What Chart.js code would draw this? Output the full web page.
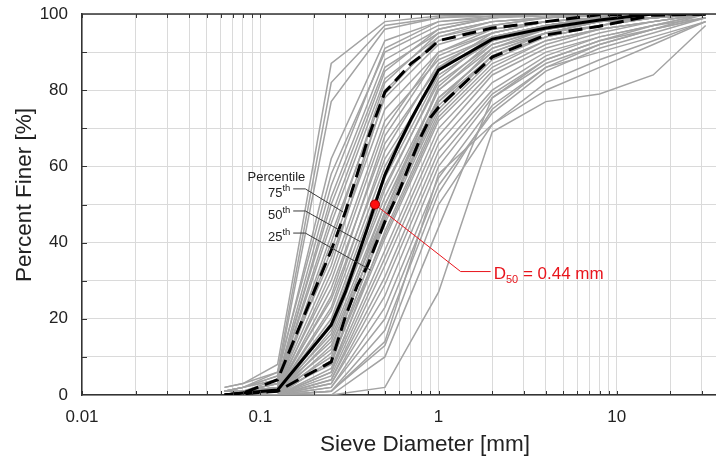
<!DOCTYPE html>
<html>
<head>
<meta charset="utf-8">
<script src="https://cdn.jsdelivr.net/npm/chart.js@4.4.0/dist/chart.umd.min.js"></script>
<style>
  html, body { margin: 0; padding: 0; background: #fff; }
  #wrap { width: 716px; height: 463px; }
</style>
</head>
<body>
<div id="wrap"><canvas id="gsd" width="716" height="463"></canvas></div>
<script>
// sieve openings [mm]
var sieveSizes = [0.063, 0.08, 0.125, 0.25, 0.5, 1, 2, 4, 8, 16, 31.5];

// percent finer of each sample, one row per sample, at the sieve sizes above
var samplePassing = [
    [2, 3, 8, 87, 98, 99.5, 100, 100, 100, 100, 100],
    [1, 2, 6, 82, 97, 99, 100, 100, 100, 100, 100],
    [1, 2, 5, 77, 96, 99, 99.5, 100, 100, 100, 100],
    [1, 2, 5, 62, 93, 98, 99.5, 100, 100, 100, 100],
    [2, 3, 6, 58, 90, 97, 99, 100, 100, 100, 100],
    [1, 1, 4, 55, 91, 98, 99, 100, 100, 100, 100],
    [0, 1, 3, 52, 88, 96, 99, 99.5, 100, 100, 100],
    [1, 2, 4, 50, 86, 95, 98, 99, 100, 100, 100],
    [0, 1, 3, 47, 85, 96, 99, 100, 100, 100, 100],
    [1, 1, 3, 45, 83, 94, 97, 99, 100, 100, 100],
    [0, 0, 2, 42, 80, 93, 97, 99, 99.5, 100, 100],
    [0, 1, 2, 40, 82, 95, 98, 99, 100, 100, 100],
    [0, 0, 2, 38, 78, 92, 96, 98, 99, 100, 100],
    [1, 2, 4, 36, 75, 90, 95, 98, 99, 100, 100],
    [0, 1, 2, 34, 79, 94, 98, 99, 100, 100, 100],
    [0, 0, 1, 32, 72, 88, 94, 97, 99, 100, 100],
    [0, 1, 2, 30, 70, 90, 96, 98, 99, 100, 100],
    [0, 0, 1, 28, 66, 86, 93, 97, 99, 100, 100],
    [0, 0, 1, 26, 68, 89, 95, 98, 99, 100, 100],
    [1, 1, 2, 25, 62, 84, 93, 96, 98, 99, 100],
    [0, 0, 1, 23, 64, 87, 94, 97, 99, 100, 100],
    [0, 0, 1, 22, 60, 85, 94, 97, 99, 100, 100],
    [0, 0, 1, 20, 58, 86, 95, 98, 99, 100, 100],
    [0, 0, 0, 19, 55, 82, 92, 96, 98, 99, 100],
    [0, 0, 1, 18, 57, 84, 93, 97, 99, 100, 100],
    [0, 0, 0, 17, 52, 80, 91, 95, 98, 99, 100],
    [0, 0, 1, 16, 54, 83, 94, 97, 99, 100, 100],
    [0, 0, 0, 15, 50, 78, 90, 95, 97, 99, 100],
    [0, 0, 1, 14, 48, 81, 93, 97, 99, 100, 100],
    [0, 0, 0, 13, 46, 76, 89, 94, 97, 99, 100],
    [0, 0, 1, 12, 50, 80, 92, 96, 98, 99, 100],
    [0, 0, 0, 11, 47, 77, 89, 94, 97, 99, 100],
    [0, 0, 1, 10, 48, 78, 90, 95, 98, 99, 100],
    [0, 0, 0, 9, 45, 75, 89, 95, 98, 99, 100],
    [0, 0, 0, 9, 42, 73, 87, 93, 96, 98, 100],
    [0, 0, 1, 8, 46, 77, 91, 96, 98, 99, 100],
    [0, 0, 0, 7, 41, 72, 86, 93, 96, 98, 100],
    [0, 0, 0, 6, 38, 70, 85, 92, 96, 98, 100],
    [0, 0, 0, 6, 43, 74, 88, 94, 97, 99, 100],
    [0, 0, 0, 5, 36, 68, 84, 91, 95, 98, 100],
    [0, 0, 0, 4, 34, 66, 82, 90, 94, 97, 100],
    [0, 0, 0, 4, 31, 64, 80, 89, 94, 97, 99],
    [0, 0, 0, 3, 29, 62, 79, 88, 93, 97, 100],
    [0, 0, 0, 3, 26, 60, 78, 87, 92, 96, 99],
    [0, 0, 0, 2, 23, 57, 76, 86, 92, 96, 100],
    [0, 0, 0, 2, 20, 55, 74, 85, 91, 95, 99],
    [0, 0, 0, 1, 17, 53, 75, 86, 90, 94, 98],
    [0, 0, 0, 1, 13, 50, 71, 82, 88, 93, 98],
    [0, 0, 0, 0, 10, 44, 78, 88, 93, 96, 99],
    [0, 0, 0, 1, 14, 58, 71, 80, 86, 92, 98],
    [0, 0, 0, 0, 2, 27, 69, 77, 79, 84, 97]
];

// percentile curves, read on a finer size grid
var pctSizes = [0.063, 0.08, 0.125, 0.25, 0.3, 0.35, 0.4, 0.44, 0.5, 0.6, 0.7, 0.8, 0.9, 1, 2, 4, 8, 16, 31.5];
var pct75 = [0, 0.5, 4, 38, 48, 58, 67, 72.5, 79.5, 83.5, 87, 89, 91, 93, 96.3, 98, 99.8, 100, 100];
var pct50 = [0, 0.5, 1.3, 18.4, 27, 36, 44, 50, 57.8, 66, 72.3, 77.3, 81.5, 85.3, 93.4, 96.3, 98.4, 100, 100];
var pct25 = [0, 0.3, 1, 8.7, 20.5, 28.7, 34, 39, 45.5, 53.4, 61.3, 68, 72.8, 75.5, 88.7, 94.5, 96.8, 99.7, 100];

var d50 = 0.44;

var xTickLabels = [0.01, 0.1, 1, 10];
var yTickLabels = [0, 20, 40, 60, 80, 100];

var FONT = "'Liberation Sans', Arial, Helvetica, sans-serif";

// log grid: 1..9 of every decade
var xGridValues = [];
[0.01, 0.1, 1, 10].forEach(function(dec) {
    for (var m = 1; m <= 9; m++) {
        if (m * dec <= 36) xGridValues.push(m === 1 ? dec : m * dec);
    }
});

function toPoints(xs, ys) {
    return xs.map(function(x, i) { return { x: x, y: ys[i] }; });
}

var datasets = [];
datasets.push({
    data: [{ x: d50, y: 50 }],
    showLine: false,
    pointRadius: 4.5,
    pointBackgroundColor: '#ff1010',
    pointBorderColor: '#a00000',
    pointBorderWidth: 1,
    order: 0
});
datasets.push({ data: toPoints(pctSizes, pct50), borderColor: '#000', borderWidth: 3, order: 1 });
datasets.push({ data: toPoints(pctSizes, pct75), borderColor: '#000', borderWidth: 3, borderDash: [14, 7], order: 1 });
datasets.push({ data: toPoints(pctSizes, pct25), borderColor: '#000', borderWidth: 3, borderDash: [14, 7], order: 1 });
samplePassing.forEach(function(row) {
    datasets.push({ data: toPoints(sieveSizes, row), borderColor: '#a3a3a3', borderWidth: 1.5, order: 2 });
});

// leader lines + labels, frame with inward ticks, axis titles
var pctNotes = [
    { name: '75', y: 54.1, tip: [0.292, 48] },
    { name: '50', y: 48.3, tip: [0.365, 40.2] },
    { name: '25', y: 42.5, tip: [0.415, 32.8] }
];

var annotate = {
    id: 'annotate',
    beforeDatasetDraw: function(chart, args) {
        if (args.index !== 0) return;
        var ctx = chart.ctx, x = chart.scales.x, y = chart.scales.y;
        ctx.save();

        // percentile leaders
        ctx.strokeStyle = '#3a3a3a';
        ctx.lineWidth = 1;
        var x0 = x.getPixelForValue(0.153), x1 = x.getPixelForValue(0.179);
        pctNotes.forEach(function(n) {
            var py = y.getPixelForValue(n.y);
            ctx.beginPath();
            ctx.moveTo(x0, py);
            ctx.lineTo(x1, py);
            ctx.lineTo(x.getPixelForValue(n.tip[0]), y.getPixelForValue(n.tip[1]));
            ctx.stroke();
        });

        // D50 leader
        var bx = x.getPixelForValue(1.33), by = y.getPixelForValue(32.4);
        var ex = x.getPixelForValue(1.96);
        ctx.strokeStyle = '#e8141c';
        ctx.beginPath();
        ctx.moveTo(x.getPixelForValue(d50), y.getPixelForValue(50));
        ctx.lineTo(bx, by);
        ctx.lineTo(ex, by);
        ctx.stroke();
        ctx.restore();
    },
    afterDraw: function(chart) {
        var ctx = chart.ctx, a = chart.chartArea, x = chart.scales.x, y = chart.scales.y;
        ctx.save();

        // frame: top line + inward ticks
        ctx.strokeStyle = '#333';
        ctx.lineWidth = 1.5;
        ctx.beginPath();
        ctx.moveTo(a.left, a.top);
        ctx.lineTo(a.right, a.top);
        ctx.stroke();
        ctx.lineWidth = 1;
        ctx.beginPath();
        xGridValues.forEach(function(v) {
            var px = Math.round(x.getPixelForValue(v)) + 0.5;
            ctx.moveTo(px, a.top); ctx.lineTo(px, a.top + 4);
            ctx.moveTo(px, a.bottom); ctx.lineTo(px, a.bottom - 4);
        });
        for (var v = 10; v < 100; v += 10) {
            var py = Math.round(y.getPixelForValue(v)) + 0.5;
            ctx.moveTo(a.left, py); ctx.lineTo(a.left + 5, py);
        }
        ctx.stroke();

        // axis titles (the original figure was cropped on the right, so they sit off-centre)
        ctx.fillStyle = '#222';
        ctx.font = '22.5px ' + FONT;
        ctx.textAlign = 'center';
        ctx.textBaseline = 'middle';
        ctx.fillText('Sieve Diameter [mm]', 425, 445);
        ctx.save();
        ctx.translate(25, 195);
        ctx.rotate(-Math.PI / 2);
        ctx.fillText('Percent Finer [%]', 0, 0);
        ctx.restore();

        // percentile labels
        ctx.textBaseline = 'alphabetic';
        var lx = x.getPixelForValue(0.1474);
        var y75 = y.getPixelForValue(pctNotes[0].y);
        ctx.font = '13px ' + FONT;
        ctx.textAlign = 'right';
        ctx.fillText('Percentile', x.getPixelForValue(0.179), y75 - 8);
        pctNotes.forEach(function(n) {
            var py = y.getPixelForValue(n.y);
            ctx.font = '9.5px ' + FONT;
            var thW = ctx.measureText('th').width;
            ctx.fillText('th', lx, py + 2);
            ctx.font = '13px ' + FONT;
            ctx.fillText(n.name, lx - thW, py + 8);
        });

        // D50 label
        var tx = x.getPixelForValue(1.96) + 3;
        var ty = y.getPixelForValue(32.4) + 7;
        ctx.fillStyle = '#e8141c';
        ctx.textAlign = 'left';
        ctx.font = '17px ' + FONT;
        ctx.fillText('D', tx, ty);
        tx += ctx.measureText('D').width;
        ctx.font = '11px ' + FONT;
        ctx.fillText('50', tx, ty + 4);
        tx += ctx.measureText('50').width;
        ctx.font = '17px ' + FONT;
        ctx.fillText(' = ' + d50 + ' mm', tx, ty);
        ctx.restore();
    }
};

var chart = new Chart(document.getElementById('gsd'), {
    type: 'line',
    data: { datasets: datasets },
    plugins: [annotate],
    options: {
        responsive: false,
        animation: false,
        layout: { autoPadding: false, padding: { top: 14, right: 0, bottom: 0, left: 0 } },
        elements: {
            point: { radius: 0, hoverRadius: 0 },
            line: { tension: 0, fill: false }
        },
        plugins: {
            legend: { display: false },
            tooltip: { enabled: false }
        },
        scales: {
            x: {
                type: 'logarithmic',
                bounds: 'data',
                min: 0.01,
                max: 36,
                afterBuildTicks: function(s) {
                    s.ticks = xGridValues.map(function(v) { return { value: v }; });
                },
                afterFit: function(s) { s.height = 68; },
                grid: { color: '#dadada', lineWidth: 1, drawTicks: true, tickLength: 12, tickColor: 'rgba(0,0,0,0)' },
                border: { display: true, color: '#333', width: 1.5 },
                ticks: {
                    autoSkip: false,
                    maxRotation: 0,
                    minRotation: 0,
                    padding: 0,
                    color: '#222',
                    font: { family: FONT, size: 17 },
                    callback: function(v) {
                        return xTickLabels.indexOf(v) >= 0 ? String(v) : '';
                    }
                },
                title: { display: false }
            },
            y: {
                min: 0,
                max: 100,
                afterFit: function(s) { s.width = 82; },
                grid: { color: '#dadada', lineWidth: 1, drawTicks: true, tickLength: 14, tickColor: 'rgba(0,0,0,0)' },
                border: { display: true, color: '#333', width: 1.5 },
                ticks: {
                    stepSize: 10,
                    padding: 0,
                    color: '#222',
                    font: { family: FONT, size: 17 },
                    callback: function(v) {
                        return yTickLabels.indexOf(v) >= 0 ? String(v) : '';
                    }
                },
                title: { display: false }
            }
        }
    }
});
</script>
</body>
</html>
